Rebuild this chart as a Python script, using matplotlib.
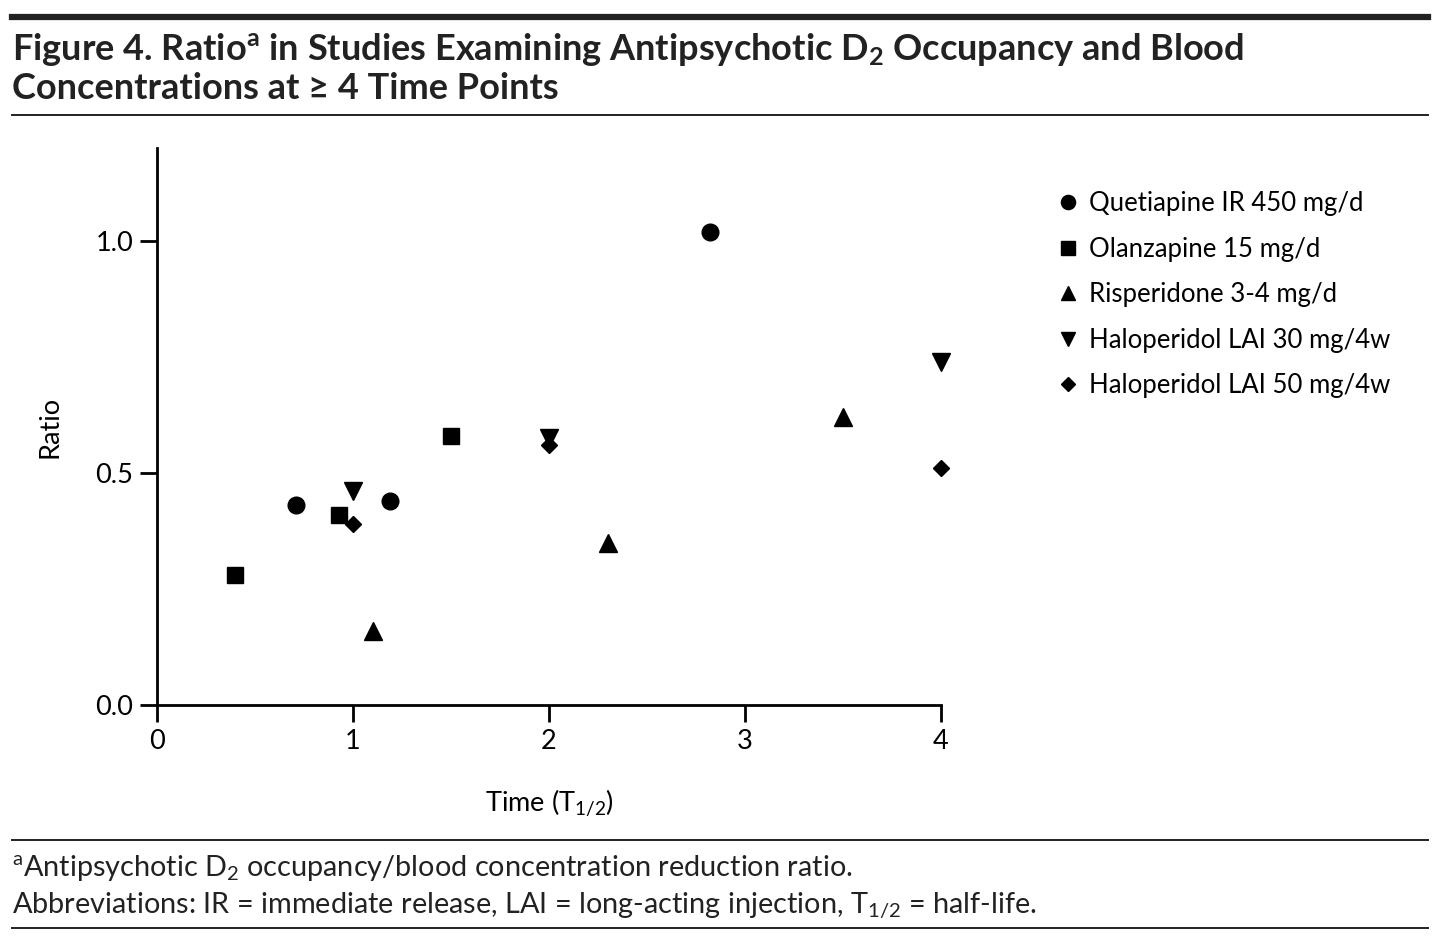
import matplotlib
matplotlib.use("Agg")
import matplotlib.pyplot as plt
from matplotlib.lines import Line2D

plt.rcParams["font.family"] = ["Lato", "DejaVu Sans"]
plt.rcParams["mathtext.fontset"] = "custom"
plt.rcParams["mathtext.rm"] = "Lato"
plt.rcParams["mathtext.bf"] = "Lato:bold"
plt.rcParams["mathtext.it"] = "Lato:italic"

# data
quet_x = [0.71, 1.19, 2.82]
quet_y = [0.43, 0.44, 1.02]
olan_x = [0.40, 0.93, 1.50]
olan_y = [0.28, 0.41, 0.58]
risp_x = [1.10, 2.30, 3.50]
risp_y = [0.16, 0.35, 0.62]
hal30_x = [1.0, 2.0, 4.0]
hal30_y = [0.46, 0.575, 0.74]
hal50_x = [1.0, 2.0, 4.0]
hal50_y = [0.39, 0.56, 0.51]

series = [
    ("Quetiapine IR 450 mg/d", quet_x, quet_y, "o", 12),
    ("Olanzapine 15 mg/d", olan_x, olan_y, "s", 12),
    ("Risperidone 3-4 mg/d", risp_x, risp_y, "^", 12.5),
    ("Haloperidol LAI 30 mg/4w", hal30_x, hal30_y, "v", 12.5),
    ("Haloperidol LAI 50 mg/4w", hal50_x, hal50_y, "D", 8.6),
]

fig = plt.figure(figsize=(14.4, 9.44), dpi=100)
ax = fig.add_axes([0.109, 0.2532, 0.5445, 0.59])

for name, xs, ys, mk, ms in series:
    ax.plot(xs, ys, linestyle="none", marker=mk, markersize=ms,
            color="black", label=name, clip_on=False, zorder=3)

ax.set_xlim(0, 4)
ax.set_ylim(0, 1.2)
ax.set_xticks([0, 1, 2, 3, 4])
ax.set_yticks([0.0, 0.5, 1.0])
ax.set_yticklabels(["0.0", "0.5", "1.0"])
ax.spines["top"].set_visible(False)
ax.spines["right"].set_visible(False)
for s in ("left", "bottom"):
    ax.spines[s].set_linewidth(2)
ax.tick_params(width=2, length=12, labelsize=19.5, pad=5)

ax.set_ylabel("Ratio", fontsize=19.5, labelpad=24)
ax.set_xlabel(r"Time (T$_{1/2}$)", fontsize=19.5, labelpad=24)

handles = [Line2D([], [], linestyle="none", marker=mk, markersize=ms * 0.85,
                  color="black") for _, _, _, mk, ms in series]
fig.legend(handles, [s[0] for s in series], loc="upper left",
           bbox_to_anchor=(0.715, 0.822), frameon=False, fontsize=18.5,
           handletextpad=0.2, labelspacing=0.8, handlelength=1.2)

# header / footer rules
fig.add_artist(Line2D([0.008, 0.992], [0.982, 0.982], color="#222222", lw=4.5))
fig.add_artist(Line2D([0.008, 0.992], [0.878, 0.878], color="#222222", lw=1.4))
fig.add_artist(Line2D([0.008, 0.992], [0.110, 0.110], color="#222222", lw=1.4))
fig.add_artist(Line2D([0.008, 0.992], [0.017, 0.017], color="#222222", lw=1.4))

fig.text(0.008, 0.948,
         r"Figure 4. Ratio$^{\mathbf{a}}$ in Studies Examining Antipsychotic D$_{\mathbf{2}}$ Occupancy and Blood",
         fontsize=26, fontweight="bold", va="center", ha="left", color="#222222")
fig.text(0.008, 0.906, "Concentrations at \u2265 4 Time Points",
         fontsize=26, fontweight="bold", va="center", ha="left", color="#222222")

fig.text(0.008, 0.080,
         r"$^{\mathrm{a}}$Antipsychotic D$_2$ occupancy/blood concentration reduction ratio.",
         fontsize=20.8, va="center", ha="left", color="#222222")
fig.text(0.008, 0.040,
         r"Abbreviations: IR = immediate release, LAI = long-acting injection, T$_{1/2}$ = half-life.",
         fontsize=20.8, va="center", ha="left", color="#222222")

fig.savefig("out.png", dpi=100)
